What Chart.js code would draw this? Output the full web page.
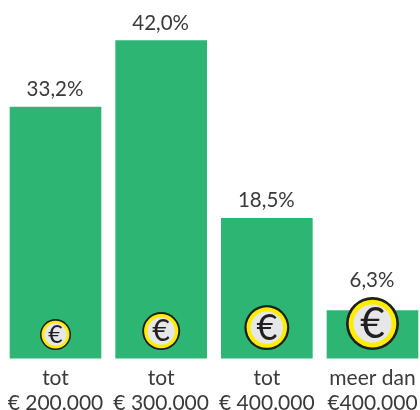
<!DOCTYPE html>
<html><head><meta charset="utf-8">
<style>html,body{margin:0;padding:0;background:#fff;overflow:hidden}#w{position:relative;width:420px;height:410px}</style>
<script src="https://cdn.jsdelivr.net/npm/chart.js@4"></script>
</head><body><div id="w"><canvas id="c" width="420" height="410"></canvas></div>
<script>
const categories = [["tot","€ 200.000"],["tot","€ 300.000"],["tot","€ 400.000"],["meer dan","€400.000"]];
const percentages = [33.2, 42.0, 18.5, 6.3];
const percentLabels = ["33,2%","42,0%","18,5%","6,3%"];
const coinSymbol = "€";

const FONT = "Lato, 'Open Sans', sans-serif";
const TEXT = "#3a3a3c";

const labelsAndCoins = {
  id: "labelsAndCoins",
  afterDatasetsDraw(chart) {
    const ctx = chart.ctx;
    const meta = chart.getDatasetMeta(0);
    const base = chart.scales.y.getPixelForValue(0);
    const radii = [15.5, 19, 22.5, 26.5];
    ctx.save();
    meta.data.forEach((bar, i) => {
      const r = radii[i], cy = base - 8 - r, cx = bar.x;
      ctx.fillStyle = TEXT;
      ctx.font = "20.5px " + FONT;
      ctx.textAlign = "center";
      ctx.textBaseline = "alphabetic";
      ctx.fillText(percentLabels[i], cx - 0.5, Math.min(bar.y - 11, cy - r - 10));
      ctx.beginPath(); ctx.arc(cx, cy, r, 0, 7); ctx.fillStyle = "#1f1f20"; ctx.fill();
      ctx.beginPath(); ctx.arc(cx, cy, r * 0.9, 0, 7); ctx.fillStyle = "#ffed00"; ctx.fill();
      ctx.beginPath(); ctx.arc(cx, cy, r * 0.72, 0, 7); ctx.fillStyle = "#e6e7e8"; ctx.fill();
      ctx.fillStyle = "#231f20";
      ctx.font = (r * 1.6) + "px " + FONT;
      ctx.textBaseline = "middle";
      ctx.fillText(coinSymbol, cx, cy + r * 0.03);
    });
    ctx.restore();
  }
};

new Chart(document.getElementById("c"), {
  type: "bar",
  data: { labels: categories, datasets: [{ data: percentages, backgroundColor: "#2db574", barThickness: 91, clip: false, borderWidth: 0 }] },
  options: {
    responsive: false, animation: false,
    layout: { padding: { left: 55.5, right: 47.5, top: 2.7, bottom: -5.5 } },
    plugins: { legend: { display: false }, tooltip: { enabled: false } },
    scales: {
      x: { offset: false, grid: { display: false }, border: { display: false },
           ticks: { color: TEXT, maxRotation: 0, autoSkip: false, padding: -0.5, font: { family: FONT, size: 21, lineHeight: 1.2 } } },
      y: { display: false, min: 0, max: 47 }
    }
  },
  plugins: [labelsAndCoins]
});
</script></body></html>
